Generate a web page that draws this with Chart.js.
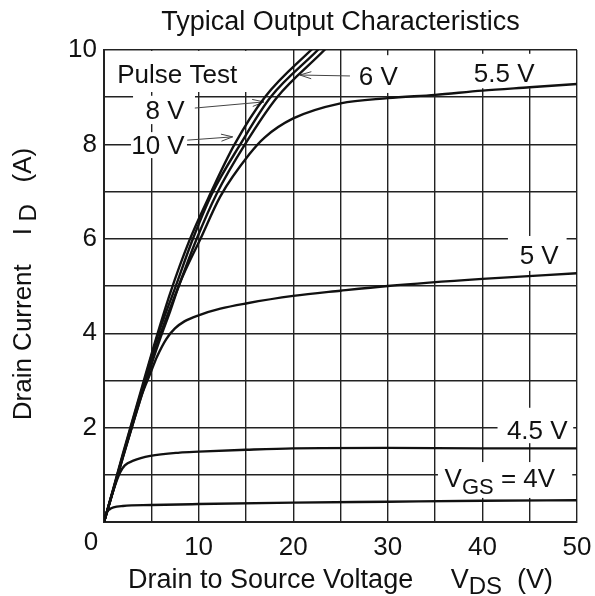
<!DOCTYPE html>
<html>
<head>
<meta charset="utf-8">
<script src="https://cdn.jsdelivr.net/npm/chart.js@4.4.1/dist/chart.umd.min.js"></script>
<style>
  html, body { margin: 0; padding: 0; background: #fff; }
  #wrap { width: 595px; height: 596px; }
</style>
</head>
<body>
<div id="wrap"><canvas id="chart"></canvas></div>
<script>
// curves: VDS (V) and ID (A) for each gate voltage
const vds10 = [0, 1, 2, 3, 4, 5.3, 7, 9, 11, 13.8, 17, 21.9, 23.5];
const id10  = [0, 0.72, 1.45, 2.15, 2.85, 3.75, 4.85, 5.95, 6.85, 8, 9, 10, 10.3];

const vds8 = [0, 1, 2, 3, 4, 5.6, 7.5, 9.4, 11.4, 14.4, 17.6, 22.6, 24];
const id8  = [0, 0.7, 1.42, 2.12, 2.8, 3.9, 4.95, 6, 6.95, 8, 9, 10, 10.3];

const vds6 = [0, 1, 2, 3, 4, 5.9, 7.9, 9.8, 11.9, 14.9, 18.3, 23.3, 24.7];
const id6  = [0, 0.68, 1.38, 2.07, 2.75, 3.95, 5.0, 6, 6.95, 8, 9, 10, 10.3];

const vds55 = [0, 1, 2, 3, 4, 5, 6, 7, 8, 10.2, 12.3, 15.4, 17, 20, 25, 30, 35, 40, 45, 50];
const id55  = [0, 0.68, 1.37, 2.04, 2.7, 3.33, 3.92, 4.47, 5.05, 6.0, 6.9, 7.8, 8.15, 8.55, 8.87, 8.98, 9.05, 9.14, 9.21, 9.28];

const vds5 = [0, 1, 2, 3, 4, 4.9, 5.6, 6.6, 7.5, 8.5, 10, 12.3, 15, 20, 25, 30, 40, 50];
const id5  = [0, 0.7, 1.4, 2.05, 2.7, 3.15, 3.5, 3.88, 4.1, 4.25, 4.38, 4.52, 4.63, 4.79, 4.9, 5.0, 5.15, 5.27];

const vds45 = [0, 0.5, 1, 1.7, 2.2, 3.1, 4.9, 8, 10, 15, 20, 30, 40, 50];
const id45  = [0, 0.35, 0.68, 1.05, 1.2, 1.3, 1.4, 1.47, 1.49, 1.53, 1.56, 1.57, 1.56, 1.56];

const vds4 = [0, 0.3, 0.6, 1, 2, 5, 10, 20, 30, 40, 50];
const id4  = [0, 0.2, 0.27, 0.31, 0.34, 0.36, 0.38, 0.41, 0.43, 0.45, 0.46];

const curves = [
  [vds10, id10], [vds8, id8], [vds6, id6], [vds55, id55],
  [vds5, id5], [vds45, id45], [vds4, id4]
];

const xTickLabels = [10, 20, 30, 40, 50];
const yTickLabels = [2, 4, 6, 8, 10];

const FONT = '"Liberation Sans", Arial, sans-serif';

// labels inside the plot, placed in data units; box = white patch [x0, x1, y0, y1]
const notes = [
  { parts: [{ t: 'Pulse Test' }], x: 1.4, y: 9.49, align: 'left', box: [0.42, 16.3, 9.11, 9.98] },
  { parts: [{ t: '8 V' }], x: 6.45, y: 8.73, align: 'center', box: [3.07, 9.62, 8.43, 9.03] },
  { parts: [{ t: '10 V' }], x: 5.7, y: 7.99, align: 'center', box: [2.85, 8.77, 7.71, 8.26] },
  { parts: [{ t: '6 V' }], x: 29.0, y: 9.45, align: 'center', box: [26.2, 31.5, 9.09, 9.89] },
  { parts: [{ t: '5.5 V' }], x: 42.3, y: 9.53, align: 'center', box: [38.5, 46.1, 9.19, 9.92] },
  { parts: [{ t: '5 V' }], x: 46.0, y: 5.66, align: 'center', box: [42.7, 48.9, 5.32, 6.06] },
  { parts: [{ t: '4.5 V' }], x: 45.8, y: 1.95, align: 'center', box: [41.6, 49.6, 1.67, 2.42] },
  { parts: [{ t: 'V' }, { t: 'GS', sub: true }, { t: ' = 4V' }], x: 36.0, y: 0.93, align: 'left', box: [35.3, 49.5, 0.51, 1.27] }
];

const arrows = [
  [9.6, 8.77, 16.9, 8.9],
  [8.8, 8.09, 13.6, 8.16],
  [26, 9.45, 20.7, 9.47]
];

function drawRich(ctx, parts, x, y, align, size, subSize, subDrop) {
  let widths = parts.map(p => {
    ctx.font = (p.sub ? subSize : size) + 'px ' + FONT;
    return ctx.measureText(p.t).width;
  });
  let total = widths.reduce((a, b) => a + b, 0);
  let cx = align === 'center' ? x - total / 2 : x;
  let base = y + size * 0.36;
  ctx.textAlign = 'left';
  ctx.textBaseline = 'alphabetic';
  parts.forEach((p, i) => {
    ctx.font = (p.sub ? subSize : size) + 'px ' + FONT;
    ctx.fillText(p.t, cx, base + (p.sub ? subDrop : 0));
    cx += widths[i];
  });
}

function arrow(ctx, x0, y0, x1, y1) {
  const a = Math.atan2(y1 - y0, x1 - x0);
  ctx.beginPath();
  ctx.moveTo(x0, y0);
  ctx.lineTo(x1, y1);
  ctx.moveTo(x1 - 12 * Math.cos(a - 0.3), y1 - 12 * Math.sin(a - 0.3));
  ctx.lineTo(x1, y1);
  ctx.lineTo(x1 - 12 * Math.cos(a + 0.3), y1 - 12 * Math.sin(a + 0.3));
  ctx.stroke();
}

const labelsPlugin = {
  id: 'labels',
  beforeDatasetsDraw(chart) {
    const { ctx, scales: { x, y } } = chart;
    ctx.save();
    ctx.fillStyle = '#fff';
    notes.forEach(n => {
      const [x0, x1, y0, y1] = n.box;
      ctx.fillRect(x.getPixelForValue(x0), y.getPixelForValue(y1),
        x.getPixelForValue(x1) - x.getPixelForValue(x0),
        y.getPixelForValue(y0) - y.getPixelForValue(y1));
    });
    ctx.fillStyle = '#111';
    notes.forEach(n => {
      drawRich(ctx, n.parts, x.getPixelForValue(n.x), y.getPixelForValue(n.y), n.align, 26, 22, 7);
    });
    ctx.strokeStyle = '#444';
    ctx.lineWidth = 1;
    arrows.forEach(a => {
      arrow(ctx, x.getPixelForValue(a[0]), y.getPixelForValue(a[1]),
        x.getPixelForValue(a[2]), y.getPixelForValue(a[3]));
    });
    ctx.restore();
  },
  afterDraw(chart) {
    const { ctx, scales: { x, y }, chartArea } = chart;
    const mid = (chartArea.left + chartArea.right) / 2;
    ctx.save();
    ctx.fillStyle = '#111';
    // title
    drawRich(ctx, [{ t: 'Typical Output Characteristics' }], mid, 20, 'center', 27, 22, 7);
    // shared zero at the corner
    drawRich(ctx, [{ t: '0' }], x.getPixelForValue(0) - 13, y.getPixelForValue(0) + 19, 'center', 26, 22, 7);
    // x axis title
    drawRich(ctx, [{ t: 'Drain to Source Voltage     V' }, { t: 'DS', sub: true }, { t: '  (V)' }],
      mid, 578, 'center', 27, 24, 6);
    // y axis title
    ctx.translate(22, 284);
    ctx.rotate(-Math.PI / 2);
    drawRich(ctx, [{ t: 'Drain Current    I' }, { t: ' D', sub: true }, { t: '   (A)' }], 0, 0, 'center', 26, 24, 5);
    ctx.restore();
  }
};

new Chart(document.getElementById('chart'), {
  type: 'scatter',
  data: {
    datasets: curves.map(([vx, vy]) => ({
      data: vx.map((v, i) => ({ x: v, y: vy[i] })),
      showLine: true,
      borderColor: '#111',
      borderWidth: 2.4,
      pointRadius: 0,
      cubicInterpolationMode: 'monotone',
      fill: false
    }))
  },
  options: {
    responsive: true,
    maintainAspectRatio: false,
    animation: false,
    layout: { padding: { top: 50, right: 18, left: 0, bottom: 0 } },
    plugins: { legend: { display: false }, tooltip: { enabled: false } },
    scales: {
      x: {
        type: 'linear', min: 0, max: 50,
        ticks: {
          stepSize: 5, autoSkip: false, maxRotation: 0, padding: 10, color: '#111',
          font: { family: FONT, size: 26 },
          callback: v => xTickLabels.includes(v) ? String(v) : ''
        },
        grid: { color: '#222', lineWidth: 1.4, drawTicks: false },
        border: { color: '#222', width: 2 },
        afterFit(s) { s.height = 74; s.paddingLeft = 0; s.paddingRight = 0; }
      },
      y: {
        type: 'linear', min: 0, max: 10,
        ticks: {
          stepSize: 1, autoSkip: false, padding: 7, color: '#111',
          font: { family: FONT, size: 26 },
          callback: v => yTickLabels.includes(v) ? String(v) : ''
        },
        grid: { color: '#222', lineWidth: 1.4, drawTicks: false },
        border: { color: '#222', width: 2 },
        afterFit(s) { s.width = 104; s.paddingTop = 0; s.paddingBottom = 0; }
      }
    }
  },
  plugins: [labelsPlugin]
});
</script>
</body>
</html>
